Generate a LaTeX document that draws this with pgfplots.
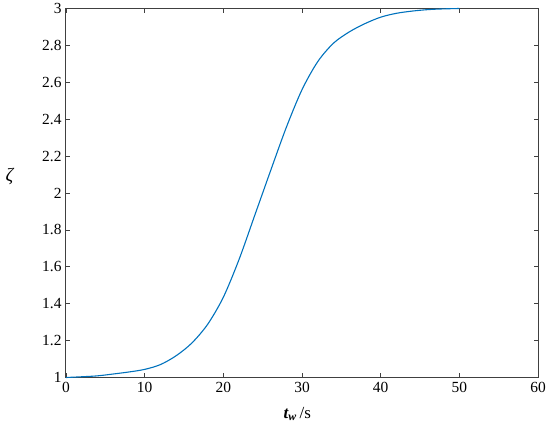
\documentclass[border=0pt]{standalone}
\usepackage{fontspec}
\setmainfont{Liberation Serif}
\usepackage{pgfplots}
\pgfplotsset{compat=1.18}
\definecolor{mblue}{HTML}{0072BD}
\definecolor{axgray}{HTML}{404040}
\begin{document}
\begin{tikzpicture}
\begin{axis}[
  scale only axis,
  width=472bp, height=369bp,
  xmin=0, xmax=60, ymin=1, ymax=3,
  xtick={0,10,...,60},
  ytick={1,1.2,...,3.01},
  yticklabels={1,1.2,1.4,1.6,1.8,2,2.2,2.4,2.6,2.8,3},
  tick align=inside,
  major tick length=4.5bp,
  axis line style={axgray, line width=1bp},
  every tick/.style={axgray, line width=0.8bp},
  tick label style={font=\fontsize{15.5}{17}\selectfont, text=black},
  /pgf/number format/assume math mode=true,
  xticklabel style={yshift=-1bp},
  yticklabel style={xshift=-1bp},
  clip=false,
  xlabel={\textbf{\textit{t\textsubscript{w}}}\,/s},
  xlabel style={font=\fontsize{17}{19}\selectfont, at={(axis description cs:0.49,0)}, anchor=north, yshift=-26bp},
  ylabel={\textit{ζ}},
  ylabel style={font=\fontsize{19}{21}\selectfont, rotate=-90, at={(axis description cs:0,0.545)}, anchor=center, xshift=-56bp},
]
\addplot[mblue, line width=1.1bp, smooth, tension=0.5] coordinates {
(0,1.000) (2,1.004) (4,1.009) (6,1.019) (8,1.030) (10,1.044) (12,1.070)
(14,1.118) (16,1.187) (18,1.288) (20,1.435) (22,1.640) (24,1.880) (25,2.000)
(26,2.120) (28,2.355) (30,2.560) (32,2.712) (34,2.812) (36,2.873) (38,2.918)
(40,2.953) (42,2.974) (44,2.986) (46,2.994) (48,2.998) (50,3.000)
};
\end{axis}
\path[use as bounding box] ([shift={(-66bp,-56bp)}]current axis.south west) rectangle ([shift={(12bp,7bp)}]current axis.north east);
\end{tikzpicture}
\end{document}
